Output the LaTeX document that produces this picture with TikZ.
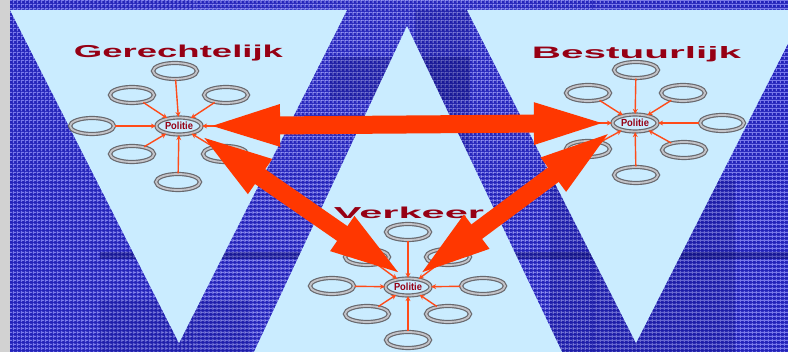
\documentclass[tikz,border=0pt]{standalone}
\usepackage{fontspec}
\setmainfont{Liberation Sans}
\usepackage{graphicx}
\usetikzlibrary{arrows.meta,shapes.geometric,patterns.meta}
\definecolor{bgblue}{RGB}{35,35,185}
\definecolor{gridblue}{RGB}{120,120,235}
\definecolor{paleblue}{RGB}{202,236,255}
\definecolor{titlered}{RGB}{150,0,20}
\definecolor{feedred}{RGB}{255,75,25}
\definecolor{linkred}{RGB}{255,55,0}
\definecolor{ringgray}{RGB}{105,105,110}
\definecolor{ringlight}{RGB}{195,195,200}
\tikzset{
  sat/.style={ellipse,draw=ringgray,line width=1.2pt,double=ringlight,double distance=1.8pt,
    fill=paleblue,minimum width=44pt,minimum height=16pt,inner sep=0pt},
  hub/.style={sat,minimum width=45pt,minimum height=17pt,text=titlered},
  feed/.style={draw=feedred,line width=1.4pt,-{Stealth[length=5pt,width=5pt]}},
  link/.style={draw=linkred,line width=18pt,{Triangle[length=78pt,width=36pt]}-{Triangle[length=78pt,width=36pt]}},
  sector/.style={fill=paleblue,draw=none},
  title/.style={anchor=base,text=titlered,inner sep=0pt}
}
\newcommand{\politie}{\resizebox{28pt}{7.5pt}{\bfseries Politie}}
\begin{document}
\begin{tikzpicture}[x=1pt,y=-1pt]
\useasboundingbox (0,0) rectangle (788,352);
% background
\fill[bgblue] (0,0) rectangle (788,352);
\path[pattern={Lines[angle=0,distance=4pt,line width=1pt]},pattern color=gridblue] (0,0) rectangle (788,352);
\path[pattern={Lines[angle=90,distance=4pt,line width=1pt]},pattern color=gridblue] (0,0) rectangle (788,352);
\fill[black!70!blue,opacity=.2] (330,57) rectangle (470,100);
\fill[black!70!blue,opacity=.15] (415,10) rectangle (470,180);
\fill[black!70!blue,opacity=.3] (100,252) rectangle (788,259);
\fill[black!70!blue,opacity=.12] (100,300) rectangle (250,352);
\fill[black!70!blue,opacity=.15] (550,180) rectangle (735,352);
\fill[gray!35] (0,0) rectangle (10,352);
% sectors
\path[sector] (10,10) -- (347,10) -- (179,343) -- cycle;
\path[sector] (467,10) -- (805,10) -- (636,343) -- cycle;
\path[sector] (407,26) -- (562,352) -- (254,352) -- cycle;
\node[title] (tGer) at (178.5,58) {\resizebox{209pt}{12.5pt}{\bfseries Gerechtelijk}};
\node[title] (tBes) at (636.5,59) {\resizebox{209pt}{12pt}{\bfseries Bestuurlijk}};
\node[title] (tVer) at (409,219) {\resizebox{150pt}{11.5pt}{\bfseries Verkeer}};
% Gerechtelijk
\node[hub] (gerHub) at (179,126) {\politie};
\node[sat] (gerN) at (175,71) {};
\node[sat] (gerNW) at (132,95) {};
\node[sat] (gerNE) at (226,95) {};
\node[sat] (gerW) at (92,126) {};
\node[sat] (gerE) at (265,126) {};
\node[sat] (gerSW) at (132,154) {};
\node[sat] (gerSE) at (225,154) {};
\node[sat] (gerS) at (178,182) {};
\draw[feed] (gerN) -- (gerHub);
\draw[feed] (gerNW) -- (gerHub);
\draw[feed] (gerNE) -- (gerHub);
\draw[feed] (gerW) -- (gerHub);
\draw[feed] (gerE) -- (gerHub);
\draw[feed] (gerSW) -- (gerHub);
\draw[feed] (gerSE) -- (gerHub);
\draw[feed] (gerS) -- (gerHub);
% Bestuurlijk
\node[hub] (besHub) at (635,123) {\politie};
\node[sat] (besN) at (636,70) {};
\node[sat] (besNW) at (588,93) {};
\node[sat] (besNE) at (683,93) {};
\node[sat] (besW) at (548,123) {};
\node[sat] (besE) at (722,123) {};
\node[sat] (besSW) at (588,149) {};
\node[sat] (besSE) at (684,150) {};
\node[sat] (besS) at (636,175) {};
\draw[feed] (besN) -- (besHub);
\draw[feed] (besNW) -- (besHub);
\draw[feed] (besNE) -- (besHub);
\draw[feed] (besW) -- (besHub);
\draw[feed] (besE) -- (besHub);
\draw[feed] (besSW) -- (besHub);
\draw[feed] (besSE) -- (besHub);
\draw[feed] (besS) -- (besHub);
% Verkeer
\node[hub] (verHub) at (408,287) {\politie};
\node[sat] (verN) at (408,232) {};
\node[sat] (verNW) at (367,257) {};
\node[sat] (verNE) at (448,257) {};
\node[sat] (verW) at (332,286) {};
\node[sat] (verE) at (483,286) {};
\node[sat] (verSW) at (367,314) {};
\node[sat] (verSE) at (448,314) {};
\node[sat] (verS) at (408,340) {};
\draw[feed] (verN) -- (verHub);
\draw[feed] (verNW) -- (verHub);
\draw[feed] (verNE) -- (verHub);
\draw[feed] (verW) -- (verHub);
\draw[feed] (verE) -- (verHub);
\draw[feed] (verSW) -- (verHub);
\draw[feed] (verSE) -- (verHub);
\draw[feed] (verS) -- (verHub);
% links between the hubs
\draw[link] (gerHub.east) -- (besHub.west);
\draw[link] (gerHub.-20) -- (verHub.100);
\draw[link] (besHub.195) -- (verHub.55);
\end{tikzpicture}
\end{document}
